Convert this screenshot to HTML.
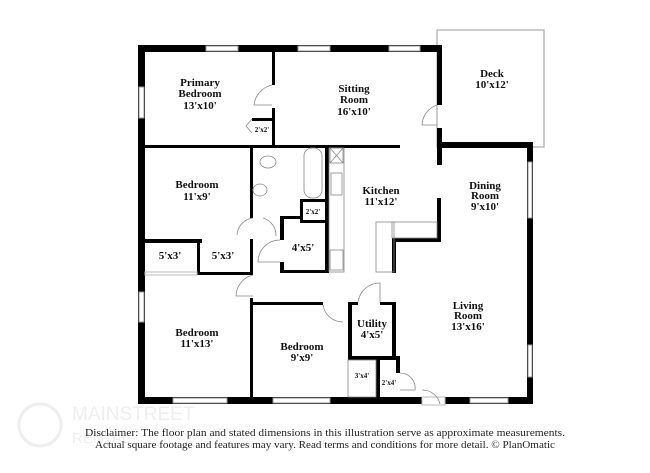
<!DOCTYPE html>
<html><head><meta charset="utf-8"><style>
html,body{margin:0;padding:0;background:#fff;}
svg{display:block}
.l{font-family:"Liberation Serif",serif;font-weight:bold;font-size:11px;fill:#111;text-anchor:middle}
.s{font-family:"Liberation Serif",serif;font-weight:bold;font-size:7px;fill:#111;text-anchor:middle}
.m{font-family:"Liberation Serif",serif;font-weight:bold;font-size:11.5px;fill:#111;text-anchor:middle}
.d{font-family:"Liberation Serif",serif;font-size:10.5px;fill:#222;text-anchor:middle}
</style></head><body>
<svg width="650" height="473" viewBox="0 0 650 473" xmlns="http://www.w3.org/2000/svg">
<rect width="650" height="473" fill="#fff"/>
<!-- deck -->
<rect x="437" y="30" width="107" height="117" fill="none" stroke="#aaa" stroke-width="1.2"/>
<g fill="#000">
<!-- outer walls -->
<rect x="138" y="45" width="304" height="7"/>
<rect x="138" y="45" width="7" height="359"/>
<rect x="138" y="397" width="395" height="7"/>
<rect x="527" y="142" width="6" height="262"/>
<rect x="437" y="142" width="96" height="6"/>
<rect x="437" y="45" width="5" height="60"/>
<rect x="437" y="128" width="5" height="37"/>
<rect x="437" y="198" width="4" height="44"/>
<rect x="392" y="238" width="49" height="4"/>
<rect x="392" y="238" width="4" height="35"/>
<!-- interior -->
<rect x="272" y="52" width="3" height="33"/>
<rect x="272" y="108" width="3" height="38"/>
<rect x="252" y="118" width="20" height="3"/>
<rect x="145" y="145" width="255" height="3"/>
<rect x="250" y="148" width="3" height="70"/>
<rect x="325" y="148" width="4" height="124"/>
<rect x="145" y="239" width="57" height="4"/>
<rect x="197" y="239" width="3" height="36"/>
<rect x="197" y="272" width="56" height="3"/>
<rect x="250" y="239" width="3" height="36"/>
<rect x="280" y="216" width="4" height="24"/>
<rect x="280" y="262" width="4" height="10"/>
<rect x="280" y="216" width="20" height="3"/>
<rect x="280" y="270" width="49" height="3"/>
<rect x="300" y="199" width="25" height="3"/>
<rect x="300" y="199" width="3" height="23"/>
<rect x="300" y="220" width="25" height="3"/>
<rect x="250" y="298" width="3" height="100"/>
<rect x="250" y="302" width="73" height="3"/>
<rect x="348" y="302" width="4" height="58"/>
<rect x="348" y="302" width="10" height="3"/>
<rect x="380" y="302" width="15" height="3"/>
<rect x="392" y="302" width="4" height="58"/>
<rect x="348" y="356" width="52" height="4"/>
<rect x="376" y="356" width="4" height="42"/>
<rect x="396" y="356" width="4" height="17"/>
</g>
<!-- windows -->
<g fill="#fff" stroke="#999" stroke-width="1">
<rect x="206" y="46" width="32" height="5"/><rect x="298" y="46" width="32" height="5"/><rect x="389" y="46" width="31" height="5"/>
<rect x="139" y="87" width="5" height="31"/><rect x="139" y="292" width="5" height="30"/>
<rect x="173" y="398" width="54" height="5"/><rect x="273" y="398" width="57" height="5"/><rect x="470" y="398" width="38" height="5"/>
<rect x="528" y="162" width="4" height="56"/><rect x="528" y="345" width="4" height="32"/>
<rect x="422" y="397" width="23" height="8" stroke="#bbb"/>
<rect x="145" y="272" width="52" height="3" stroke="#bbb"/>
</g>
<!-- door swings & fixtures -->
<g fill="none" stroke="#888" stroke-width="0.8">
<path d="M272 85 A23 23 0 0 0 254 105 L272 105"/>
<path d="M437 105 A22 22 0 0 0 422 125 L437 125"/>
<path d="M253 218 A18 18 0 0 0 237 235"/>
<path d="M263 218 A18 18 0 0 1 276 236"/>
<path d="M280 240 A22 22 0 0 0 258 262 L280 262"/>
<path d="M253 275 A22 22 0 0 0 236 296 L253 296"/>
<path d="M323 305 A20 20 0 0 0 343 322"/>
<path d="M358 302 A22 22 0 0 1 380 283 L380 302"/>
<path d="M400 373 A15 15 0 0 1 415 390 L400 390"/>
<path d="M422 390 A18 18 0 0 1 440 404"/>
<rect x="304" y="148" width="18" height="50" rx="8"/>
<rect x="329" y="148" width="15" height="124"/>
<rect x="330" y="148" width="13" height="15"/><path d="M330 148 L343 163 M343 148 L330 163"/>
<rect x="331" y="173" width="11" height="22"/>
<rect x="330" y="250" width="13" height="20"/>
<rect x="376" y="222" width="18" height="50"/><rect x="392" y="222" width="45" height="16"/>
<ellipse cx="268" cy="162" rx="8" ry="6"/><ellipse cx="260" cy="190" rx="7" ry="6"/>
<path d="M252 119 L246 126 L252 133"/>
<rect x="348" y="360" width="28" height="37"/>
</g>
<!-- labels -->
<text class="l" x="200" y="86">Primary</text><text class="l" x="200" y="97">Bedroom</text><text class="l" x="200" y="109">13'x10'</text>
<text class="l" x="354" y="92">Sitting</text><text class="l" x="354" y="103">Room</text><text class="l" x="354" y="115">16'x10'</text>
<text class="l" x="492" y="77">Deck</text><text class="l" x="492" y="88">10'x12'</text>
<text class="l" x="197" y="188">Bedroom</text><text class="l" x="197" y="200">11'x9'</text>
<text class="l" x="381" y="194">Kitchen</text><text class="l" x="381" y="205">11'x12'</text>
<text class="l" x="485" y="189">Dining</text><text class="l" x="485" y="199">Room</text><text class="l" x="485" y="210">9'x10'</text>
<text class="l" x="170" y="259">5'x3'</text><text class="l" x="223" y="259">5'x3'</text>
<text class="l" x="303" y="251">4'x5'</text>
<text class="s" x="262" y="132">2'x2'</text><text class="s" x="313" y="214">2'x2'</text>
<text class="l" x="197" y="336">Bedroom</text><text class="l" x="197" y="347">11'x13'</text>
<text class="l" x="302" y="350">Bedroom</text><text class="l" x="302" y="361">9'x9'</text>
<text class="l" x="372" y="327">Utility</text><text class="l" x="372" y="338">4'x5'</text>
<text class="l" x="468" y="309">Living</text><text class="l" x="468" y="319">Room</text><text class="l" x="468" y="330">13'x16'</text>
<text class="s" x="362" y="378">3'x4'</text><text class="s" x="389" y="385">2'x4'</text>
<!-- watermark -->
<circle cx="40" cy="425" r="21" fill="none" stroke="#eee" stroke-width="3"/>
<text x="72" y="420" font-family="Liberation Sans,sans-serif" font-size="19" fill="#eee">MAINSTREET</text>
<text x="72" y="443" font-family="Liberation Sans,sans-serif" font-size="15" fill="#eee">RENTAL</text>
<text class="d" x="325" y="436" textLength="480" lengthAdjust="spacingAndGlyphs">Disclaimer: The floor plan and stated dimensions in this illustration serve as approximate measurements.</text>
<text class="d" x="325" y="448" textLength="460" lengthAdjust="spacingAndGlyphs">Actual square footage and features may vary. Read terms and conditions for more detail. © PlanOmatic</text>
</svg>
</body></html>
